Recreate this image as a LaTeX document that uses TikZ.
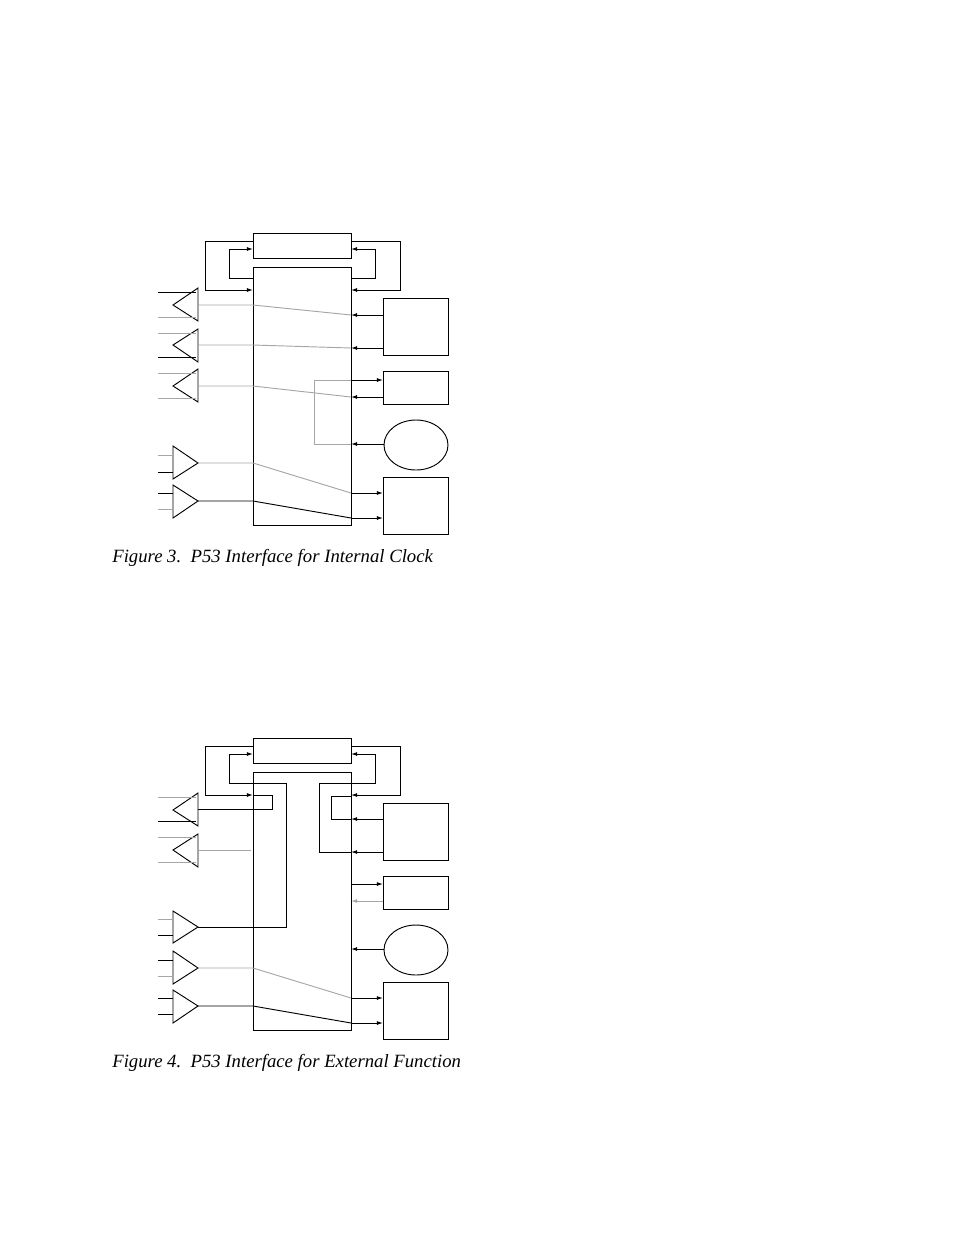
\documentclass[tikz,border=0pt]{standalone}
\usepackage{fontspec}
\setmainfont{Liberation Serif}
\usetikzlibrary{arrows.meta, shapes.geometric}
\def\px{0.641pt}
\tikzset{
box/.style={
	draw,
	shape=rectangle,
	inner sep=0pt,
	outer sep=0pt,
	line width=0.6pt,
},
osc/.style={
	draw,
	shape=ellipse,
	inner sep=0pt,
	line width=0.6pt,
	minimum width=64*\px,
	minimum height=50*\px,
},
tri/.style={
	draw,
	line width=0.6pt,
},
conn/.style={
	-{Latex[length=4pt,width=2.6pt]},
	line width=0.6pt,
},
wire/.style={
	line width=0.6pt,
},
pale/.style={
	draw=gray!70,
	line width=0.6pt,
},
caption/.style={
	font=\itshape\fontsize{12}{14}\selectfont,
	anchor=west,
	inner sep=0pt,
}
}

\begin{document}
\begin{tikzpicture}[x=\px, y=-\px]
	\useasboundingbox (0,0) rectangle (954,1235);

	%% Figure 3
	\begin{scope}
		% Boxes
		\node[box, minimum width=98*\px, minimum height=25*\px] (reg) at (302,245.5) {};
		\node[box, minimum width=98*\px, minimum height=258*\px] (chip) at (302,396) {};
		\node[box, minimum width=65*\px, minimum height=57*\px] (devA) at (415.5,326.5) {};
		\node[box, minimum width=65*\px, minimum height=33*\px] (devB) at (415.5,387.5) {};
		\node[osc] (clk) at (416,445) {};
		\node[box, minimum width=65*\px, minimum height=57*\px] (devC) at (415.5,505.5) {};

		% Loops
		\draw[conn] (reg.west|-0,241) -- (205,241) -- (205,290) -- (chip.west|-0,290);
		\draw[conn] (chip.west|-0,278) -- (229,278) -- (229,249) -- (reg.west|-0,249);
		\draw[conn] (reg.east|-0,241) -- (400,241) -- (400,290) -- (chip.east|-0,290);
		\draw[conn] (chip.east|-0,278) -- (375,278) -- (375,249) -- (reg.east|-0,249);

		% Drivers
		\draw[tri] (198,288) -- (173,305) coordinate (d1) -- (198,321) -- cycle;
		\draw[tri] (198,329) -- (173,345) coordinate (d2) -- (198,362) -- cycle;
		\draw[tri] (198,369) -- (173,386) coordinate (d3) -- (198,402) -- cycle;
		\draw[wire] (158,292) -- (196,292);
		\draw[pale] (158,317) -- (196,317);
		\draw[pale] (158,333) -- (196,333);
		\draw[wire] (158,357) -- (196,357);
		\draw[pale] (158,373) -- (196,373);
		\draw[pale] (158,398) -- (196,398);

		% Receivers
		\draw[tri] (173,446) -- (198,463) coordinate (r1) -- (173,479) -- cycle;
		\draw[tri] (173,485) -- (198,501) coordinate (r2) -- (173,518) -- cycle;
		\draw[pale] (158,455) -- (173,455);
		\draw[wire] (158,472) -- (173,472);
		\draw[wire] (158,493) -- (173,493);
		\draw[pale] (158,509) -- (173,509);

		% Connections
		\draw[pale] (198,305) -- (chip.west|-0,305) -- (chip.east|-0,315);
		\draw[conn] (devA.west|-0,315) -- (chip.east|-0,315);
		\draw[pale] (198,345) -- (chip.west|-0,345) -- (chip.east|-0,348);
		\draw[conn] (devA.west|-0,348) -- (chip.east|-0,348);
		\draw[pale] (198,386) -- (chip.west|-0,386) -- (chip.east|-0,397);
		\draw[conn] (devB.west|-0,397) -- (chip.east|-0,397);
		\draw[conn] (chip.east|-0,380) -- (devB.west|-0,380);
		\draw[pale] (chip.east|-0,380) -- (314,380) -- (314,444) -- (chip.east|-0,444);
		\draw[conn] (clk.west|-0,444) -- (chip.east|-0,444);
		\draw[pale] (198,463) -- (chip.west|-0,463) -- (chip.east|-0,493);
		\draw[conn] (chip.east|-0,493) -- (devC.west|-0,493);
		\draw[wire] (198,501) -- (chip.west|-0,501) -- (chip.east|-0,518);
		\draw[conn] (chip.east|-0,518) -- (devC.west|-0,518);

		% Caption
		\node[caption] (cap3) at (112,558) {Figure 3.\ \ P53 Interface for Internal Clock};
	\end{scope}

	%% Figure 4
	\begin{scope}[shift={(0,505)}]
		% Boxes
		\node[box, minimum width=98*\px, minimum height=25*\px] (reg) at (302,245.5) {};
		\node[box, minimum width=98*\px, minimum height=258*\px] (chip) at (302,396) {};
		\node[box, minimum width=65*\px, minimum height=57*\px] (devA) at (415.5,326.5) {};
		\node[box, minimum width=65*\px, minimum height=33*\px] (devB) at (415.5,387.5) {};
		\node[osc] (clk) at (416,445) {};
		\node[box, minimum width=65*\px, minimum height=57*\px] (devC) at (415.5,505.5) {};

		% Loops
		\draw[conn] (reg.west|-0,241) -- (205,241) -- (205,290) -- (chip.west|-0,290);
		\draw[conn] (chip.west|-0,278) -- (229,278) -- (229,249) -- (reg.west|-0,249);
		\draw[conn] (reg.east|-0,241) -- (400,241) -- (400,290) -- (chip.east|-0,290);
		\draw[conn] (chip.east|-0,278) -- (375,278) -- (375,249) -- (reg.east|-0,249);

		% Drivers
		\draw[tri] (198,288) -- (173,305) coordinate (d1) -- (198,321) -- cycle;
		\draw[tri] (198,329) -- (173,345) coordinate (d2) -- (198,362) -- cycle;
		\draw[pale] (158,292) -- (196,292);
		\draw[wire] (158,316) -- (196,316);
		\draw[pale] (158,332) -- (196,332);
		\draw[pale] (158,357) -- (196,357);

		% Receivers
		\draw[tri] (173,406) -- (198,422) coordinate (r0) -- (173,438) -- cycle;
		\draw[tri] (173,446) -- (198,463) coordinate (r1) -- (173,479) -- cycle;
		\draw[tri] (173,485) -- (198,501) coordinate (r2) -- (173,518) -- cycle;
		\draw[pale] (158,414) -- (173,414);
		\draw[wire] (158,430) -- (173,430);
		\draw[wire] (158,455) -- (173,455);
		\draw[pale] (158,471) -- (173,471);
		\draw[wire] (158,493) -- (173,493);
		\draw[wire] (158,509) -- (173,509);

		% Connections
		\draw[wire] (198,304) -- (272,304) -- (272,290) -- (chip.west|-0,290);
		\draw[pale] (198,345) -- (251,345);
		\draw[wire] (198,422) -- (286,422) -- (286,278) -- (chip.west|-0,278);
		\draw[wire] (chip.east|-0,278) -- (319,278) -- (319,347) -- (chip.east|-0,347);
		\draw[conn] (devA.west|-0,347) -- (chip.east|-0,347);
		\draw[wire] (chip.east|-0,291) -- (331,291) -- (331,314) -- (chip.east|-0,314);
		\draw[conn] (devA.west|-0,314) -- (chip.east|-0,314);
		\draw[conn] (chip.east|-0,379) -- (devB.west|-0,379);
		\draw[conn, draw=gray!70] (devB.west|-0,396) -- (chip.east|-0,396);
		\draw[conn] (clk.west|-0,444) -- (chip.east|-0,444);
		\draw[pale] (198,463) -- (chip.west|-0,463) -- (chip.east|-0,493);
		\draw[conn] (chip.east|-0,493) -- (devC.west|-0,493);
		\draw[wire] (198,501) -- (chip.west|-0,501) -- (chip.east|-0,518);
		\draw[conn] (chip.east|-0,518) -- (devC.west|-0,518);

		% Caption
		\node[caption] (cap4) at (112,558) {Figure 4.\ \ P53 Interface for External Function};
	\end{scope}
\end{tikzpicture}
\end{document}
